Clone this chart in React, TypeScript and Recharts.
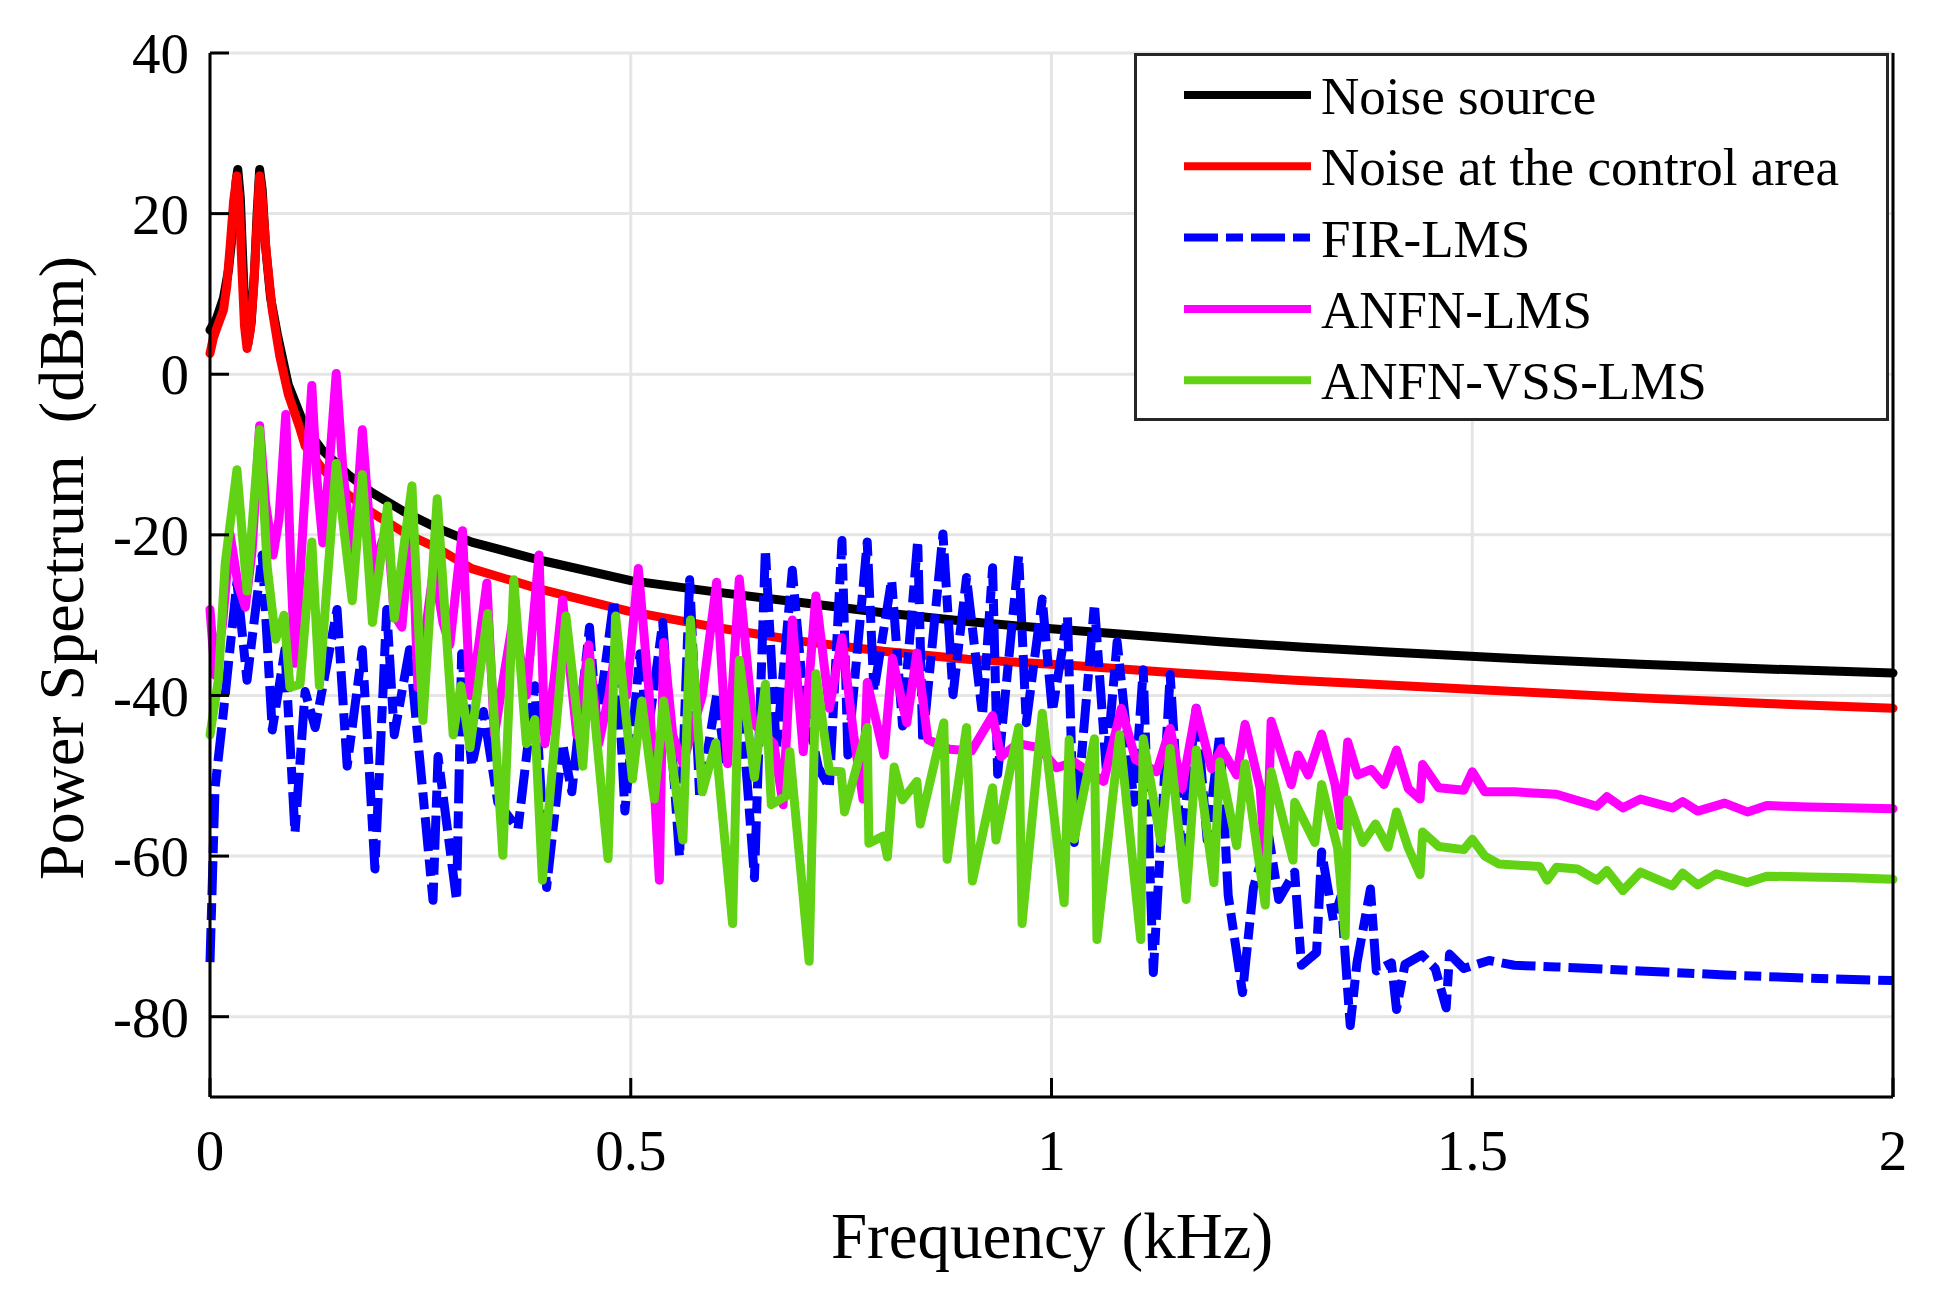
import React from 'react';
import { LineChart, Line, XAxis, YAxis, CartesianGrid, Legend, Label } from 'recharts';

const W = 1946;
const H = 1299;
const FONT = '"Liberation Serif", "Times New Roman", serif';

// axis ticks (frequency in kHz, power in dBm)
const xTicks = [0, 0.5, 1, 1.5, 2];
const yTicks = [-80, -60, -40, -20, 0, 20, 40];

// [frequency kHz, power dBm]
const noiseSource: [number, number][] = [
  [0, 5.5], [0.008, 7], [0.016, 9.5], [0.022, 13], [0.027, 18], [0.031, 24], [0.033, 25.5],
  [0.036, 22], [0.039, 14], [0.042, 6.5], [0.045, 3.8], [0.049, 6.5], [0.053, 13], [0.056, 20],
  [0.059, 25.5], [0.062, 23], [0.066, 16], [0.072, 9.5], [0.08, 5], [0.093, -1.3], [0.113, -6.6],
  [0.133, -9.4], [0.164, -12.5], [0.192, -14.7], [0.232, -17.2], [0.271, -19.2], [0.311, -20.9],
  [0.39, -23.1], [0.5, -25.7], [0.6, -27.1], [0.7, -28.4], [0.8, -29.7], [0.9, -30.8], [1.0, -31.7],
  [1.1, -32.5], [1.2, -33.3], [1.3, -34.0], [1.4, -34.6], [1.55, -35.4], [1.7, -36.1], [1.85, -36.7],
  [2.0, -37.2],
];

const noiseControl: [number, number][] = [
  [0, 2.6], [0.004, 4.5], [0.009, 6], [0.016, 8], [0.02, 11], [0.024, 16], [0.028, 21.5],
  [0.032, 24.7], [0.035, 21], [0.038, 13], [0.041, 6], [0.044, 3.2], [0.048, 5.5], [0.052, 11],
  [0.056, 19], [0.059, 24.7], [0.062, 22], [0.067, 15], [0.074, 8], [0.083, 2.2], [0.093, -2.5],
  [0.107, -6.8], [0.113, -8.9], [0.133, -11.7], [0.164, -15], [0.192, -17.2], [0.232, -19.8],
  [0.271, -21.7], [0.311, -24.2], [0.39, -26.7], [0.497, -29.5], [0.6, -31.5], [0.7, -33.2],
  [0.8, -34.5], [0.9, -35.5], [1.03, -36.3], [1.15, -37.2], [1.289, -38.1], [1.4, -38.7],
  [1.55, -39.5], [1.7, -40.3], [1.85, -41], [2.0, -41.6],
];

const firLms: [number, number][] = [
  [0, -73.2], [0.006, -51.5], [0.015, -43], [0.032, -25.9], [0.044, -38.1], [0.062, -22.5],
  [0.074, -44.3], [0.089, -34.3], [0.101, -57.1], [0.113, -39.5], [0.125, -44], [0.151, -29.3],
  [0.163, -48.8], [0.181, -34.3], [0.196, -61.6], [0.21, -29.3], [0.219, -44.9], [0.237, -34.3],
  [0.265, -65.5], [0.271, -47.6], [0.293, -65.5], [0.299, -34.8], [0.311, -48.8], [0.325, -42],
  [0.342, -53.3], [0.366, -56.6], [0.386, -38.8], [0.4, -63.9], [0.419, -46], [0.43, -52],
  [0.451, -31.5], [0.46, -44], [0.48, -28.1], [0.493, -54.4], [0.511, -34.8], [0.52, -45],
  [0.538, -30.9], [0.558, -60.1], [0.57, -25.6], [0.582, -52.9], [0.602, -40], [0.612, -48],
  [0.629, -38], [0.647, -62.7], [0.66, -21.8], [0.673, -46.8], [0.692, -24.4], [0.705, -40],
  [0.723, -49], [0.736, -51.5], [0.751, -20.7], [0.758, -47.4], [0.781, -20.9], [0.789, -39.5],
  [0.81, -25.6], [0.823, -43.8], [0.841, -20.7], [0.847, -45.9], [0.871, -19.9], [0.883, -39.9],
  [0.899, -25.3], [0.918, -42.5], [0.93, -24.1], [0.936, -49.8], [0.961, -22.6], [0.97, -43.4],
  [0.989, -28], [1.001, -42], [1.019, -30.2], [1.027, -58.3], [1.051, -28.6], [1.065, -49.1],
  [1.078, -33.3], [1.098, -53.3], [1.109, -36.8], [1.121, -74.5], [1.141, -37.4], [1.154, -59.1],
  [1.172, -41.6], [1.185, -58], [1.2, -44.8], [1.21, -64.9], [1.227, -77], [1.24, -63.9],
  [1.258, -57.4], [1.27, -65.4], [1.289, -62], [1.297, -73.6], [1.315, -72], [1.321, -59.5],
  [1.335, -68], [1.344, -65], [1.355, -81.1], [1.363, -73.3], [1.379, -64.1], [1.386, -74.3],
  [1.404, -73.3], [1.41, -79.1], [1.42, -73.5], [1.44, -72.3], [1.456, -74], [1.469, -78.9],
  [1.473, -72.2], [1.49, -74], [1.52, -73], [1.55, -73.6], [1.6, -73.8], [1.7, -74.3],
  [1.8, -74.8], [1.9, -75.2], [2.0, -75.5],
];

const anfnLms: [number, number][] = [
  [0, -29.3], [0.006, -37.5], [0.015, -31], [0.024, -20], [0.033, -26], [0.042, -29], [0.05, -22],
  [0.059, -6.4], [0.066, -16], [0.075, -22.5], [0.082, -18], [0.09, -5], [0.096, -24], [0.101, -36],
  [0.111, -18], [0.121, -1.4], [0.127, -13], [0.134, -21], [0.142, -11], [0.15, 0.1], [0.158, -12],
  [0.168, -22], [0.175, -16], [0.181, -6.9], [0.189, -18], [0.196, -24.8], [0.204, -21],
  [0.211, -19], [0.219, -30], [0.228, -31.5], [0.236, -22], [0.24, -18], [0.247, -39], [0.256, -32],
  [0.266, -24], [0.277, -31], [0.285, -33.7], [0.3, -19.5], [0.309, -40], [0.319, -34],
  [0.329, -26], [0.338, -44.9], [0.35, -37], [0.361, -30], [0.376, -40], [0.391, -22.5],
  [0.398, -46], [0.409, -38], [0.419, -28.1], [0.436, -45], [0.45, -33.7], [0.462, -46],
  [0.474, -40], [0.482, -34], [0.495, -40], [0.509, -24.2], [0.522, -40], [0.534, -63],
  [0.539, -33.4], [0.55, -45], [0.562, -48.5], [0.585, -40], [0.602, -25.9], [0.615, -48.5],
  [0.629, -25.5], [0.645, -43.4], [0.67, -46], [0.681, -53.6], [0.692, -30.6], [0.705, -47],
  [0.72, -27.6], [0.736, -41.6], [0.751, -32.8], [0.765, -45], [0.776, -52.9], [0.781, -38.4],
  [0.801, -47.4], [0.811, -35.4], [0.828, -43.4], [0.84, -34.7], [0.853, -45.5], [0.879, -46.7],
  [0.905, -46.9], [0.93, -42.5], [0.94, -47.6], [0.96, -46], [0.985, -46.5], [1.006, -49],
  [1.027, -48.3], [1.062, -50.7], [1.083, -41.6], [1.1, -48], [1.125, -49.5], [1.141, -44.1],
  [1.155, -51.6], [1.172, -41.6], [1.19, -49.1], [1.202, -46.6], [1.22, -49.9], [1.23, -43.6],
  [1.248, -51.6], [1.255, -62.4], [1.261, -43.2], [1.285, -51.1], [1.293, -47.4], [1.305, -49.9],
  [1.321, -44.8], [1.337, -51.1], [1.344, -56.2], [1.352, -45.8], [1.364, -49.9], [1.38, -49.2],
  [1.395, -51.1], [1.41, -46.8], [1.424, -51.6], [1.438, -52.9], [1.441, -48.6], [1.46, -51.5],
  [1.49, -51.8], [1.5, -49.5], [1.515, -52], [1.55, -52], [1.6, -52.3], [1.648, -53.8],
  [1.66, -52.6], [1.679, -54], [1.7, -52.9], [1.738, -54], [1.75, -53.2], [1.768, -54.4],
  [1.8, -53.4], [1.827, -54.5], [1.85, -53.7], [1.9, -53.9], [2.0, -54.1],
];

const anfnVssLms: [number, number][] = [
  [0, -44.9], [0.01, -38], [0.018, -23.6], [0.032, -11.9], [0.044, -27], [0.059, -6.9],
  [0.068, -24], [0.078, -33], [0.088, -30], [0.095, -39], [0.107, -38.6], [0.121, -20.9],
  [0.13, -38.8], [0.15, -11.1], [0.169, -28.2], [0.181, -12.5], [0.193, -30.9], [0.211, -16.4],
  [0.219, -30.4], [0.24, -13.9], [0.253, -43.1], [0.27, -15.5], [0.289, -44.9], [0.298, -38.8],
  [0.309, -46.5], [0.33, -29.8], [0.348, -59.9], [0.361, -25.6], [0.376, -46], [0.386, -43],
  [0.395, -63], [0.423, -30.1], [0.443, -48.8], [0.451, -35.9], [0.473, -60.3], [0.482, -30.1],
  [0.502, -50.4], [0.513, -40.7], [0.528, -52.9], [0.539, -40.7], [0.562, -58], [0.571, -30.6],
  [0.585, -52], [0.601, -45.9], [0.621, -68.4], [0.629, -35.6], [0.647, -50.2], [0.66, -38.6],
  [0.667, -53.6], [0.685, -52.5], [0.689, -47], [0.712, -73.1], [0.72, -37.3], [0.736, -49.4],
  [0.75, -49.5], [0.754, -54.5], [0.781, -44], [0.783, -58.4], [0.8, -57.5], [0.805, -60.1],
  [0.813, -48.9], [0.823, -53], [0.84, -50.7], [0.844, -56], [0.872, -43.4], [0.876, -60.4],
  [0.899, -44], [0.906, -63.1], [0.93, -51.5], [0.934, -58], [0.961, -44], [0.965, -68.4],
  [0.989, -42.2], [1.015, -65.8], [1.021, -45.5], [1.027, -57.9], [1.051, -45.4], [1.054, -70.4],
  [1.081, -44.9], [1.106, -70.4], [1.109, -45.4], [1.13, -58.3], [1.141, -46.6], [1.16, -65.4],
  [1.172, -46.8], [1.193, -63.3], [1.2, -48.3], [1.22, -58.7], [1.23, -48.5], [1.254, -66.1],
  [1.261, -49.5], [1.287, -60.5], [1.289, -53.3], [1.313, -58.3], [1.321, -51.1], [1.34, -59],
  [1.349, -69.9], [1.352, -53], [1.37, -58.3], [1.385, -56], [1.4, -58.9], [1.41, -54.5],
  [1.424, -59], [1.438, -62.3], [1.441, -57], [1.46, -58.8], [1.49, -59.2], [1.5, -57.9],
  [1.515, -60], [1.532, -61], [1.58, -61.3], [1.589, -63], [1.6, -61.4], [1.625, -61.6],
  [1.648, -63], [1.66, -61.8], [1.679, -64.3], [1.7, -62], [1.738, -63.7], [1.75, -62.1],
  [1.768, -63.6], [1.79, -62.2], [1.827, -63.3], [1.85, -62.5], [1.9, -62.6], [1.95, -62.7],
  [2.0, -62.9],
];

const SERIES = [
  { name: 'Noise source', color: '#000000', points: noiseSource, dash: undefined },
  { name: 'Noise at the control area', color: '#ff0000', points: noiseControl, dash: undefined },
  { name: 'FIR-LMS', color: '#0000ff', points: firLms, dash: '34 8 17 8' },
  { name: 'ANFN-LMS', color: '#ff00ff', points: anfnLms, dash: undefined },
  { name: 'ANFN-VSS-LMS', color: '#62d215', points: anfnVssLms, dash: undefined },
];

const toRows = (pts: [number, number][]) => pts.map(([f, v]) => ({ f, v }));

const LINE_W = 9;
const TICK_LEN = 19;
const axisStyle = { stroke: '#000', strokeWidth: 3 };
const labelFont = { fill: '#000', fontSize: 57, fontFamily: FONT };

// MATLAB style ticks: the mark points into the plot, label sits outside
const BOTTOM_GAP = 33;
const LEFT_GAP = 21;

const BottomTick = ({ x, y, payload }: any) => (
  <g>
    <line x1={x} x2={x} y1={y - BOTTOM_GAP} y2={y - BOTTOM_GAP - TICK_LEN} stroke="#000" strokeWidth={3} />
    <text x={x} y={y} dy="0.71em" textAnchor="middle" {...labelFont}>
      {String(payload.value)}
    </text>
  </g>
);

const LeftTick = ({ x, y, payload }: any) => (
  <g>
    <line x1={x + LEFT_GAP} x2={x + LEFT_GAP + TICK_LEN} y1={y} y2={y} stroke="#000" strokeWidth={3} />
    <text x={x} y={y} dy="0.355em" textAnchor="end" {...labelFont}>
      {String(payload.value)}
    </text>
  </g>
);

const TopTick = ({ x, y }: any) => (
  <line x1={x} x2={x} y1={y} y2={y + TICK_LEN} stroke="#000" strokeWidth={3} />
);

const RightTick = ({ x, y }: any) => (
  <line x1={x} x2={x - TICK_LEN} y1={y} y2={y} stroke="#000" strokeWidth={3} />
);

const LegendBox = () => (
  <svg width={755} height={368} style={{ display: 'block' }}>
    <rect x={1.5} y={1.5} width={752} height={365} fill="#fff" stroke="#262626" strokeWidth={3} />
    {SERIES.map((s, i) => {
      const cy = 42 + i * 71.3;
      return (
        <g key={s.name}>
          <line x1={50} x2={177} y1={cy} y2={cy} stroke={s.color} strokeWidth={8} strokeDasharray={s.dash} />
          <text x={187} y={cy + 19} fontFamily={FONT} fontSize={53} fill="#000">
            {s.name}
          </text>
        </g>
      );
    })}
  </svg>
);

export default function App() {
  return (
    <div style={{ position: 'absolute', left: 0, top: 0, width: W, height: H, background: '#fff' }}>
      <LineChart width={W} height={H} margin={{ top: 53, right: 0, bottom: 0, left: 0 }}>
        <CartesianGrid stroke="#e5e5e5" strokeWidth={3} />
        {SERIES.map((s) => (
          <Line
            key={s.name}
            data={toRows(s.points)}
            dataKey="v"
            name={s.name}
            type="linear"
            stroke={s.color}
            strokeWidth={LINE_W}
            strokeDasharray={s.dash}
            strokeLinejoin="round"
            strokeLinecap={s.dash ? 'butt' : 'round'}
            dot={false}
            activeDot={false}
            isAnimationActive={false}
          />
        ))}
        <XAxis
          dataKey="f"
          type="number"
          domain={[0, 2]}
          ticks={xTicks}
          interval={0}
          height={202}
          tickSize={0}
          tickMargin={BOTTOM_GAP}
          axisLine={axisStyle}
          tickLine={false}
          tick={<BottomTick />}
        >
          <Label
            content={() => (
              <text x={1052} y={1258} textAnchor="middle" fontFamily={FONT} fontSize={65} fill="#000">
                Frequency (kHz)
              </text>
            )}
          />
        </XAxis>
        <XAxis
          xAxisId="top"
          orientation="top"
          type="number"
          domain={[0, 2]}
          ticks={xTicks}
          interval={0}
          height={0}
          tickSize={0}
          tickMargin={0}
          axisLine={axisStyle}
          tickLine={false}
          tick={<TopTick />}
        />
        <YAxis
          type="number"
          domain={[-90, 40]}
          ticks={yTicks}
          interval={0}
          width={210}
          tickSize={0}
          tickMargin={LEFT_GAP}
          axisLine={axisStyle}
          tickLine={false}
          tick={<LeftTick />}
        >
          <Label
            content={() => (
              <text
                transform="translate(83, 568) rotate(-90)"
                textAnchor="middle"
                fontFamily={FONT}
                fontSize={64}
                fill="#000"
              >
                {'Power Spectrum\u00a0 (dBm)'}
              </text>
            )}
          />
        </YAxis>
        <YAxis
          yAxisId="right"
          orientation="right"
          type="number"
          domain={[-90, 40]}
          ticks={yTicks}
          interval={0}
          width={53}
          tickSize={0}
          tickMargin={0}
          axisLine={axisStyle}
          tickLine={false}
          tick={<RightTick />}
        />
        <Legend
          layout="vertical"
          align="center"
          verticalAlign="middle"
          content={() => <LegendBox />}
          wrapperStyle={{ position: 'absolute', left: 1134, top: 53, width: 755, height: 368 }}
        />
      </LineChart>
    </div>
  );
}
